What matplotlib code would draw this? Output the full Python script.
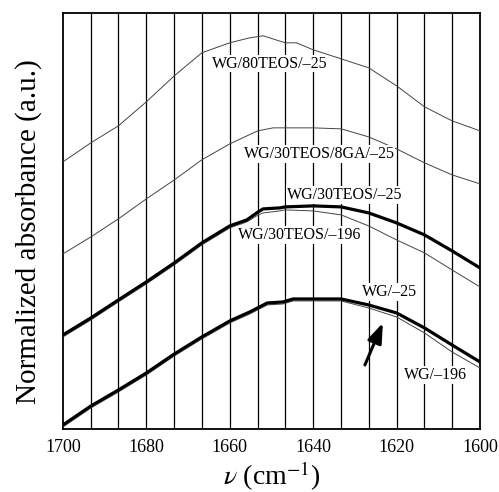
import numpy as np
import matplotlib
matplotlib.use('Agg')
import matplotlib.pyplot as plt

plt.rcParams['font.family'] = ['Liberation Serif', 'DejaVu Serif']
plt.rcParams['mathtext.fontset'] = 'stix'

# wavenumber (cm-1) and normalized absorbance (arbitrary units, offset spectra)
nu_80teos = [1700, 1693.3, 1686.7, 1680, 1673.3, 1666.7, 1660, 1655.2, 1652,
             1646.7, 1644, 1640, 1633.3, 1626.7, 1620, 1613.3, 1606.7, 1600]
a_80teos = [267, 286, 303, 327, 353, 376, 386, 391, 393,
            386, 386, 379, 370, 361, 343, 322, 308, 298]

nu_8ga = [1700, 1693.3, 1686.7, 1680, 1673.3, 1666.7, 1660, 1653.3, 1649.6,
          1646.7, 1640, 1633.3, 1626.7, 1620, 1613.3, 1606.7, 1600]
a_8ga = [175, 192, 210, 230, 249, 269, 285, 298, 301,
         301, 301, 300, 292, 280, 266, 254, 245]

nu_30 = [1700, 1693.3, 1686.7, 1680, 1673.3, 1666.7, 1660, 1655.9, 1653.2,
         1652, 1648, 1646.7, 1640, 1633.3, 1626.7, 1620, 1613.3, 1606.7, 1600]
a_30_25 = [94, 111, 129, 147, 166, 186, 203, 209, 217,
           220, 221, 222, 223, 222, 216, 206, 194, 178, 161]
a_30_196 = [92, 109, 127, 145, 164, 184, 201, 207, 214,
            216, 218, 219, 218, 214, 203, 189, 176, 159, 142]

nu_wg = [1700, 1693.3, 1686.7, 1680, 1673.3, 1666.7, 1660, 1655.2, 1651,
         1647.2, 1644.8, 1640, 1633.3, 1626.7, 1620, 1613.3, 1606.7, 1600]
a_wg_25 = [4, 23, 39, 56, 75, 92, 108, 117, 126,
           127, 130, 130, 130, 124, 116, 101, 84, 67]
a_wg_196 = [2, 21, 37, 54, 73, 90, 106, 115, 124,
            125, 128, 128, 128, 121, 112, 96, 77, 61]

xticks = [1700, 1680, 1660, 1640, 1620, 1600]
gridlines = np.linspace(1700, 1600, 16)

fig = plt.figure(figsize=(4.99, 4.92), dpi=100)
ax = fig.add_axes([0.126, 0.128, 0.836, 0.846])

for g in gridlines[1:-1]:
    ax.axvline(g, color='black', lw=0.9, zorder=1)

thin = dict(color='#444444', lw=0.7, zorder=3)
thick = dict(color='black', lw=2.3, zorder=4)

ax.plot(nu_80teos, a_80teos, **thin)
ax.plot(nu_8ga, a_8ga, **thin)
ax.plot(nu_30, a_30_196, **thin)
ax.plot(nu_30, a_30_25, **thick)
ax.plot(nu_wg, a_wg_196, **thin)
ax.plot(nu_wg, a_wg_25, **thick)

box = dict(facecolor='white', edgecolor='none', pad=0.5)
lab = dict(fontsize=11.5, ha='center', va='center', bbox=box, zorder=5)
ax.text(1650.4, 365, 'WG/80TEOS/\u201325', **lab)
ax.text(1638.6, 275, 'WG/30TEOS/8GA/\u201325', **lab)
ax.text(1632.4, 234, 'WG/30TEOS/\u201325', **lab)
ax.text(1643.2, 194, 'WG/30TEOS/\u2013196', **lab)
ax.text(1621.6, 137, 'WG/\u201325', **lab)
ax.text(1610.6, 54, 'WG/\u2013196', **lab)

ax.annotate('', xy=(1623.3, 106), xytext=(1627.6, 64),
            arrowprops=dict(arrowstyle='-|>,head_length=0.6,head_width=0.22',
                            color='black', lw=2.2, mutation_scale=20,
                            shrinkA=0, shrinkB=0), zorder=6)

ax.set_xlim(1700, 1600)
ax.set_ylim(0, 416)
ax.set_xticks(xticks)
ax.set_yticks([])
ax.tick_params(axis='x', length=0, labelsize=13, pad=7)
for s in ax.spines.values():
    s.set_linewidth(1.3)

ax.set_xlabel(r'$\nu$ (cm$^{-1}$)', fontsize=20, labelpad=3)
ax.set_ylabel('Normalized absorbance (a.u.)', fontsize=21)
ax.yaxis.set_label_coords(-0.05, 0.474)

fig.savefig('out.png', dpi=100)
plt.close(fig)
